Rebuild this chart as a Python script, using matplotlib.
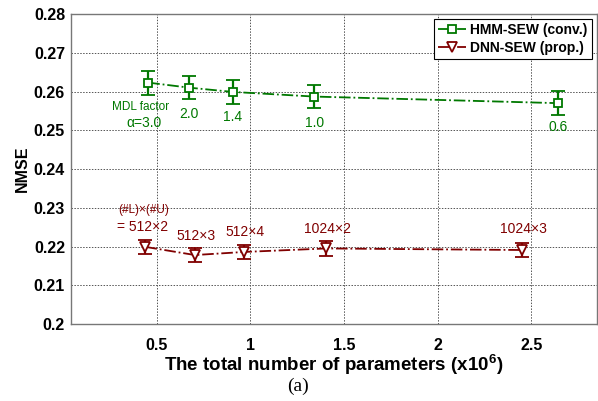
import matplotlib
matplotlib.use("Agg")
import matplotlib.pyplot as plt
from matplotlib.lines import Line2D

# Data
hmm_x = [0.455, 0.673, 0.906, 1.341, 2.642]
hmm_y = [0.2623, 0.2610, 0.2599, 0.2587, 0.2570]
hmm_err = [0.0031, 0.0030, 0.0030, 0.0030, 0.0031]
hmm_labels = ["2.0", "1.4", "1.0", "0.6"]

dnn_x = [0.44, 0.704, 0.968, 1.405, 2.451]
dnn_y = [0.2199, 0.2178, 0.2186, 0.2195, 0.2191]
dnn_err = [0.0019, 0.0018, 0.0018, 0.0019, 0.0018]
dnn_labels = ["512\u00d73", "512\u00d74", "1024\u00d72", "1024\u00d73"]

xticks = [0.5, 1, 1.5, 2, 2.5]
xticklabels = ["0.5", "1", "1.5", "2", "2.5"]
yticks = [0.2, 0.21, 0.22, 0.23, 0.24, 0.25, 0.26, 0.27, 0.28]
yticklabels = ["0.2", "0.21", "0.22", "0.23", "0.24", "0.25", "0.26", "0.27", "0.28"]

green = "#007800"
red = "#800000"

plt.rcParams['font.family'] = ['Liberation Sans', 'DejaVu Sans']
plt.rcParams['mathtext.fontset'] = 'custom'
plt.rcParams['mathtext.bf'] = 'Liberation Sans:bold'
plt.rcParams['mathtext.rm'] = 'Liberation Sans'

fig = plt.figure(figsize=(5.98, 4.01), dpi=100)
ax = fig.add_axes([0.118, 0.192, 0.880, 0.773])

ax.errorbar(hmm_x, hmm_y, yerr=hmm_err, color=green, linestyle='-.', linewidth=1.3,
            marker='s', markersize=6, markerfacecolor='white', markeredgecolor=green,
            markeredgewidth=1.3, capsize=5, elinewidth=1.6, capthick=1.6)
ax.errorbar(dnn_x, dnn_y, yerr=dnn_err, color=red, linestyle='-.', linewidth=1.3,
            marker='v', markersize=7, markerfacecolor='white', markeredgecolor=red,
            markeredgewidth=1.3, capsize=5, elinewidth=1.6, capthick=1.6)

# HMM annotations
ax.text(0.413, 0.2560, "MDL factor", color=green, fontsize=8.5, ha='center', va='center')
ax.text(0.431, 0.2520, "\u03b1=3.0", color=green, fontsize=10, ha='center', va='center')
hmm_text_y = [0.2543, 0.2533, 0.2520, 0.2509]
for xv, yv, lab in zip(hmm_x[1:], hmm_text_y, hmm_labels):
    ax.text(xv, yv, lab, color=green, fontsize=10, ha='center', va='center')

# DNN annotations
ax.text(0.431, 0.2294, "(#L)\u00d7(#U)", color=red, fontsize=8.5, ha='center', va='center')
ax.text(0.422, 0.2250, "= 512\u00d72", color=red, fontsize=10, ha='center', va='center')
dnn_text_y = [0.2227, 0.2238, 0.2246, 0.2245]
for xv, yv, lab in zip(dnn_x[1:], dnn_text_y, dnn_labels):
    ax.text(xv + 0.005, yv, lab, color=red, fontsize=10, ha='center', va='center')

ax.set_xlim(0.04, 2.85)
ax.set_ylim(0.2, 0.28)
ax.set_xticks(xticks)
ax.set_xticklabels(xticklabels, fontweight='bold', fontsize=11.5)
ax.set_yticks(yticks)
ax.set_yticklabels(yticklabels, fontweight='bold', fontsize=11.5)
ax.tick_params(axis='x', length=0, pad=10)
ax.tick_params(axis='y', length=0, pad=4)

ax.grid(True, linestyle=(0, (1.5, 1.5)), color='#555555', linewidth=0.7)
for s in ax.spines.values():
    s.set_color('#777777')
    s.set_linewidth(1.0)

ax.set_ylabel("NMSE", fontweight='bold', fontsize=11.5, labelpad=3)
ax.set_xlabel("The total number of parameters (x10$^\\mathbf{6}$)", fontweight='bold', fontsize=13.5, labelpad=-0.5)

handles = [
    Line2D([], [], color=green, linestyle='-.', linewidth=1.3, marker='s', markersize=6,
           markerfacecolor='white', markeredgecolor=green, markeredgewidth=1.3),
    Line2D([], [], color=red, linestyle='-.', linewidth=1.3, marker='v', markersize=7,
           markerfacecolor='white', markeredgecolor=red, markeredgewidth=1.3),
]
leg = ax.legend(handles, ['HMM-SEW (conv.)', 'DNN-SEW (prop.)'], loc='upper right',
                prop={'weight': 'bold', 'size': 10}, fancybox=False,
                framealpha=1, edgecolor='black', handlelength=2.0, borderpad=0.3,
                labelspacing=0.3, borderaxespad=0.35, handletextpad=0.35)
leg.get_frame().set_linewidth(0.8)

fig.text(0.498, 0.036, "(a)", family=['Liberation Serif'], fontsize=14, ha='center', va='center')

fig.savefig("out.png", dpi=100)
